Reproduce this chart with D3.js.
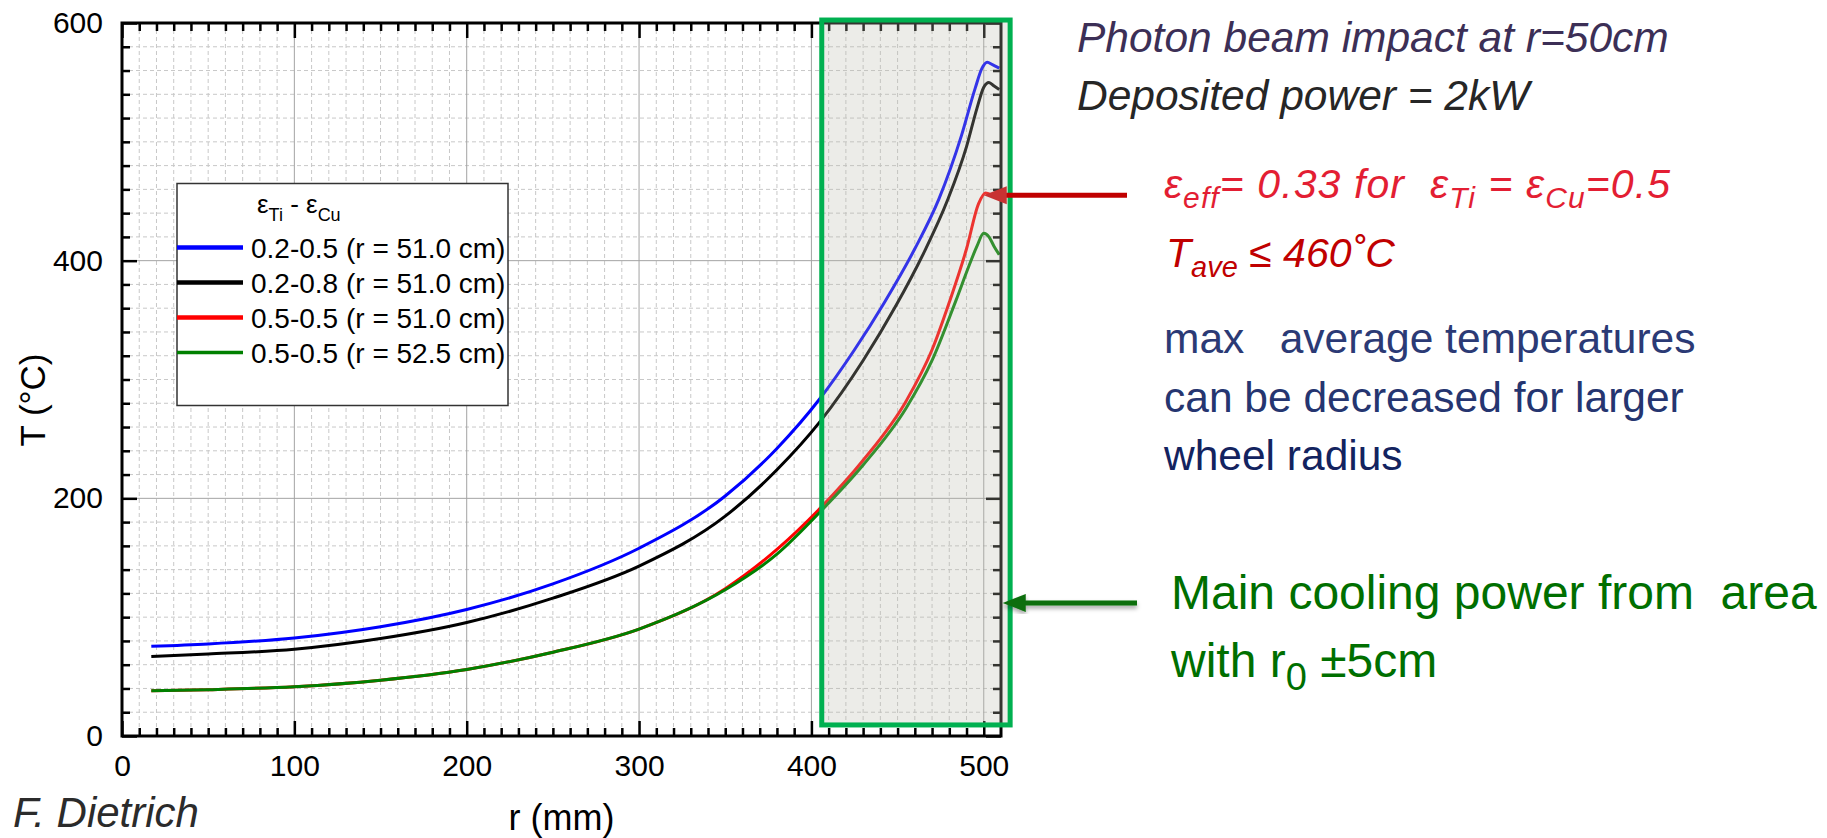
<!DOCTYPE html>
<html lang="en">
<head>
<meta charset="utf-8">
<script src="https://d3js.org/d3.v7.min.js"></script>
<style>
  body { margin: 0; background: #fff; }
  svg text { font-family: 'Liberation Sans', Arial, sans-serif; white-space: pre; }
  .grid-minor line { stroke: #c8c8c8; stroke-width: 1; stroke-dasharray: 4,3; }
  .grid-major line { stroke: #a3a3a3; stroke-width: 1; }
  .axis path { display: none; }
  .axis line { stroke: #000; stroke-width: 2.5; }
  .axis text { font-size: 30px; fill: #000; }
</style>
</head>
<body>
<svg id="chart" width="1827" height="838"></svg>
<script>
// series labels + colours
const seriesNames = ['0.2-0.5 (r = 51.0 cm)', '0.2-0.8 (r = 51.0 cm)', '0.5-0.5 (r = 51.0 cm)', '0.5-0.5 (r = 52.5 cm)'];
const seriesColors = ['#0000ff', '#000000', '#ff0000', '#008000'];

// values (r in mm, T in degC)
const rBlue  = [17, 50, 100, 150, 200, 250, 300, 350, 380, 405, 425, 442, 460, 474, 487, 495, 499, 502, 505, 509];
const tBlue  = [75.5, 77.5, 82.5, 92, 106.5, 128, 158, 202, 242, 284, 325, 364, 410, 452, 505, 545, 562, 567, 565, 562];
const rBlack = [17, 50, 100, 150, 200, 250, 300, 350, 380, 405, 430, 449, 465, 479, 490, 496, 500, 503, 506, 509];
const tBlack = [67, 69, 73, 82, 95.5, 116, 143, 185, 224, 264.5, 316, 362, 406, 451, 496, 528, 546, 550, 547, 544];
const rRed   = [17, 50, 100, 150, 200, 250, 300, 350, 380, 406, 430, 455, 470, 480, 490, 497, 501, 505, 509];
const tRed   = [38, 39, 41.5, 47, 56, 70.5, 90, 124, 157, 193, 232, 282, 325, 365, 410, 448, 457, 455, 452];
const rGreen = [17, 50, 100, 150, 200, 250, 300, 350, 380, 406, 430, 455, 470, 484, 491, 496, 500, 503, 506, 509];
const tGreen = [38, 39, 41.5, 47, 56, 70.5, 90, 123, 153, 190, 228, 276, 316, 367, 394, 412, 423, 420, 412, 405];

const xMajorTicks = [0, 100, 200, 300, 400, 500];
const yMajorTicks = [0, 200, 400, 600];

const svg = d3.select('#chart');

const x = d3.scaleLinear().domain([0, 510]).range([122, 1001]);
const y = d3.scaleLinear().domain([0, 600]).range([736, 23]);

const xMinor = d3.range(10, 510, 10).filter(v => v % 100 !== 0);
const yMinor = d3.range(20, 600, 20).filter(v => v % 200 !== 0);

// grid
const gridMinor = svg.append('g').attr('class', 'grid-minor');
gridMinor.selectAll('.vx').data(xMinor).join('line')
  .attr('x1', d => x(d)).attr('x2', d => x(d))
  .attr('y1', y(600)).attr('y2', y(0));
gridMinor.selectAll('.hy').data(yMinor).join('line')
  .attr('class', 'hy')
  .attr('x1', x(0)).attr('x2', x(510))
  .attr('y1', d => y(d)).attr('y2', d => y(d));

const gridMajor = svg.append('g').attr('class', 'grid-major');
gridMajor.selectAll('.vx').data(xMajorTicks.slice(1)).join('line')
  .attr('x1', d => x(d)).attr('x2', d => x(d))
  .attr('y1', y(600)).attr('y2', y(0));
gridMajor.selectAll('.hy').data(yMajorTicks.slice(1, 3)).join('line')
  .attr('class', 'hy')
  .attr('x1', x(0)).attr('x2', x(510))
  .attr('y1', d => y(d)).attr('y2', d => y(d));

// curves
const series = [
  { r: rBlue, t: tBlue },
  { r: rBlack, t: tBlack },
  { r: rRed, t: tRed },
  { r: rGreen, t: tGreen }
];
const line = d3.line().x(d => x(d[0])).y(d => y(d[1])).curve(d3.curveMonotoneX);
svg.append('g').selectAll('path').data(series).join('path')
  .attr('fill', 'none')
  .attr('stroke', (d, i) => seriesColors[i])
  .attr('stroke-width', 3)
  .attr('stroke-linejoin', 'round')
  .attr('d', d => line(d.r.map((v, i) => [v, d.t[i]])));

// axes (ticks point inwards)
function axisPair(axisFn, scale, tr, major, minor, labels) {
  const g = svg.append('g').attr('class', 'axis').attr('transform', tr);
  g.call(axisFn(scale).tickValues(minor).tickSizeInner(-8).tickSizeOuter(0).tickFormat(''));
  const g2 = svg.append('g').attr('class', 'axis').attr('transform', tr);
  g2.call(axisFn(scale).tickValues(major).tickSizeInner(-15).tickSizeOuter(0)
    .tickPadding(labels ? 19 : 0).tickFormat(labels ? d3.format('d') : ''));
  return g2;
}
axisPair(d3.axisBottom, x, `translate(0,${y(0)})`, xMajorTicks, xMinor, true);
axisPair(d3.axisTop, x, `translate(0,${y(600)})`, xMajorTicks, xMinor, false);
axisPair(d3.axisLeft, y, `translate(${x(0)},0)`, yMajorTicks, yMinor, true);
axisPair(d3.axisRight, y, `translate(${x(510)},0)`, yMajorTicks, yMinor, false);

svg.append('rect')
  .attr('x', x(0)).attr('y', y(600))
  .attr('width', x(510) - x(0)).attr('height', y(0) - y(600))
  .attr('fill', 'none').attr('stroke', '#000').attr('stroke-width', 3);

// axis titles
svg.append('text')
  .attr('x', (x(0) + x(510)) / 2).attr('y', 830)
  .attr('text-anchor', 'middle').attr('font-size', 36)
  .text('r (mm)');
svg.append('text')
  .attr('transform', 'translate(45,400) rotate(-90)')
  .attr('text-anchor', 'middle').attr('font-size', 35)
  .text('T (°C)');

// legend
const lg = svg.append('g');
lg.append('rect')
  .attr('x', 177).attr('y', 183.5).attr('width', 331).attr('height', 222)
  .attr('fill', '#fff').attr('stroke', '#333').attr('stroke-width', 1.5);
const hdr = lg.append('text').attr('x', 257).attr('y', 213).attr('font-size', 26);
hdr.append('tspan').text('ε');
hdr.append('tspan').attr('font-size', 18).attr('dy', 8).text('Ti');
hdr.append('tspan').attr('dy', -8).text(' - ε');
hdr.append('tspan').attr('font-size', 18).attr('dy', 8).text('Cu');

const rows = lg.selectAll('.row').data(seriesNames).join('g')
  .attr('transform', (d, i) => `translate(0,${247.5 + i * 35})`);
rows.append('line')
  .attr('x1', 177).attr('x2', 243)
  .attr('stroke', (d, i) => seriesColors[i])
  .attr('stroke-width', (d, i) => i === 3 ? 3.5 : 4.5);
rows.append('text')
  .attr('x', 251).attr('y', 10).attr('font-size', 28)
  .text(d => d);

// shaded region r0 +-5cm
svg.append('rect')
  .attr('x', x(406)).attr('y', y(602.5))
  .attr('width', x(515.3) - x(406)).attr('height', y(9.3) - y(602.5))
  .attr('fill', 'rgba(185,185,171,0.28)')
  .attr('stroke', '#00b050').attr('stroke-width', 5);

// arrows
const defs = svg.append('defs');
defs.append('filter').attr('id', 'shadow')
  .append('feDropShadow').attr('dx', 0).attr('dy', 3).attr('stdDeviation', 2)
  .attr('flood-color', '#000').attr('flood-opacity', 0.35);

function arrow(tipR, tipT, endX, color, headColor, shadow) {
  const tx = x(tipR), ty = y(tipT);
  const g = svg.append('g');
  if (shadow) g.attr('filter', 'url(#shadow)');
  g.append('line').attr('x1', tx + 20).attr('x2', endX)
    .attr('y1', ty).attr('y2', ty)
    .attr('stroke', color).attr('stroke-width', 5);
  g.append('path')
    .attr('d', `M${tx},${ty} L${tx + 23},${ty - 9} L${tx + 23},${ty + 9} Z`)
    .attr('fill', headColor);
}
arrow(500, 455, 1127, '#c00000', '#c83232', false);
arrow(511, 112, 1137, '#0a6e0a', '#0a6e0a', true);

// annotations
const fontI = 'italic';
svg.append('text').attr('x', 1077).attr('y', 52).attr('font-size', 42.5)
  .attr('font-style', fontI).attr('fill', '#3c2f56')
  .text('Photon beam impact at r=50cm');
svg.append('text').attr('x', 1077).attr('y', 110).attr('font-size', 42.5)
  .attr('font-style', fontI).attr('fill', '#262626')
  .text('Deposited power = 2kW');

const l1 = svg.append('text').attr('x', 1164).attr('y', 198).attr('font-size', 41)
  .attr('font-style', fontI).attr('fill', '#e31e33')
  .attr('textLength', 506).attr('lengthAdjust', 'spacing');
l1.append('tspan').text('ε');
l1.append('tspan').attr('font-size', 30).attr('dy', 10).text('eff');
l1.append('tspan').attr('dy', -10).text('= 0.33 for  ε');
l1.append('tspan').attr('font-size', 30).attr('dy', 10).text('Ti');
l1.append('tspan').attr('dy', -10).text(' = ε');
l1.append('tspan').attr('font-size', 30).attr('dy', 10).text('Cu');
l1.append('tspan').attr('dy', -10).text('=0.5');

const l2 = svg.append('text').attr('x', 1166).attr('y', 267).attr('font-size', 41)
  .attr('font-style', fontI).attr('fill', '#c00000');
l2.append('tspan').text('T');
l2.append('tspan').attr('font-size', 29).attr('dy', 10).text('ave');
l2.append('tspan').attr('dy', -10).text(' ≤ 460˚C');

const blueLines = ['max   average temperatures', 'can be decreased for larger', 'wheel radius'];
const blueCols = ['#2b3a75', '#253570', '#13235f'];
svg.selectAll('.bl').data(blueLines).join('text')
  .attr('x', 1164).attr('y', (d, i) => 353 + i * 58.5)
  .attr('font-size', 42.5).attr('fill', (d, i) => blueCols[i])
  .text(d => d);

svg.append('text').attr('x', 1171).attr('y', 609).attr('font-size', 48)
  .attr('fill', '#006f00').text('Main cooling power from  area');
const g2 = svg.append('text').attr('x', 1171).attr('y', 677).attr('font-size', 48)
  .attr('fill', '#006f00');
g2.append('tspan').text('with r');
g2.append('tspan').attr('font-size', 38).attr('dy', 13).text('0');
g2.append('tspan').attr('dy', -13).text(' ±5cm');

svg.append('text').attr('x', 13).attr('y', 827).attr('font-size', 42)
  .attr('font-style', fontI).attr('fill', '#2b2b2b')
  .text('F. Dietrich');
</script>
</body>
</html>
